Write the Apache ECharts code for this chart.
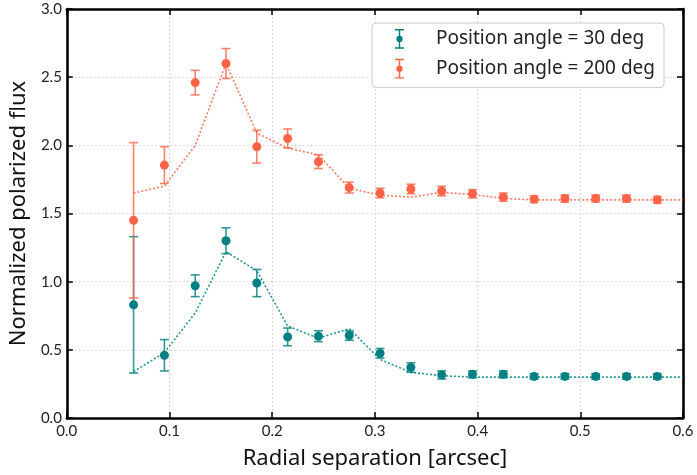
<!DOCTYPE html>
<html>
<head>
<meta charset="utf-8">
<script src="https://cdn.jsdelivr.net/npm/echarts@6/dist/echarts.min.js"></script>
<style>
  html, body { margin: 0; padding: 0; background: #fff; }
  #main { width: 697px; height: 475px; }
</style>
</head>
<body>
<div id="main"></div>
<script>
// radial separation of the measured points [arcsec]
const sepX = [0.065, 0.095, 0.125, 0.155, 0.185, 0.215, 0.245, 0.275, 0.305,
              0.335, 0.365, 0.395, 0.425, 0.455, 0.485, 0.515, 0.545, 0.575];
// model curve sampled at the same radii plus the right edge
const modelX = sepX.concat([0.6]);

const pa30Flux = [0.83, 0.46, 0.97, 1.30, 0.99, 0.595, 0.60, 0.605, 0.475,
                  0.37, 0.316, 0.32, 0.32, 0.305, 0.305, 0.305, 0.305, 0.305];
const pa30Err = [0.50, 0.115, 0.08, 0.095, 0.10, 0.065, 0.04, 0.035, 0.035,
                 0.035, 0.03, 0.025, 0.025, 0.02, 0.02, 0.02, 0.02, 0.02];
const pa30Model = [0.34, 0.48, 0.77, 1.22, 1.08, 0.675, 0.585, 0.655, 0.43,
                   0.335, 0.31, 0.30, 0.30, 0.30, 0.30, 0.30, 0.30, 0.30, 0.30];

const pa200Flux = [1.45, 1.855, 2.46, 2.60, 1.99, 2.05, 1.88, 1.69, 1.65,
                   1.68, 1.665, 1.645, 1.62, 1.605, 1.61, 1.61, 1.61, 1.60];
const pa200Err = [0.57, 0.135, 0.09, 0.11, 0.12, 0.07, 0.05, 0.04, 0.035,
                  0.035, 0.035, 0.03, 0.03, 0.025, 0.025, 0.025, 0.025, 0.025];
const pa200Model = [1.65, 1.70, 2.00, 2.60, 2.09, 1.98, 1.93, 1.685, 1.635,
                    1.62, 1.655, 1.64, 1.61, 1.60, 1.60, 1.60, 1.60, 1.60, 1.60];

const TEAL = '#008080';
const RED = '#ff6347';
const FONT = 'Noto Sans';
const TICK_FONT = 'Lato';
const NAME30 = 'Position angle = 30 deg';
const NAME200 = 'Position angle = 200 deg';

// errorbar glyph used in the legend
const ERR_ICON = 'path://M0,0H10V1.6H0Z M4.2,0H5.8V22H4.2Z M0,20.4H10V22H0Z ' +
  'M5,7.5A3.5,3.5 0 1 1 5,14.5A3.5,3.5 0 1 1 5,7.5Z';

function pairs(xs, ys) {
  return xs.map((x, i) => [x, ys[i]]);
}
function errData(xs, ys, es) {
  return xs.map((x, i) => [x, ys[i] - es[i], ys[i] + es[i]]);
}

function errorBars(color) {
  return function (params, api) {
    const lo = api.coord([api.value(0), api.value(1)]);
    const hi = api.coord([api.value(0), api.value(2)]);
    const cap = 4.5;
    const style = { stroke: color, lineWidth: 1.6, opacity: 0.8 };
    return {
      type: 'group',
      children: [
        { type: 'line', shape: { x1: lo[0], y1: lo[1], x2: hi[0], y2: hi[1] }, style: style },
        { type: 'line', shape: { x1: lo[0] - cap, y1: lo[1], x2: lo[0] + cap, y2: lo[1] }, style: style },
        { type: 'line', shape: { x1: hi[0] - cap, y1: hi[1], x2: hi[0] + cap, y2: hi[1] }, style: style }
      ]
    };
  };
}

// fresh objects per axis
const frame = () => ({ show: true, onZero: false, lineStyle: { color: '#000', width: 2.6 } });
const ticksIn = () => ({ show: true, inside: true, length: 6, lineStyle: { color: '#000', width: 1.5 } });
const dotGrid = () => ({ show: true, lineStyle: { color: '#cfcfcf', type: [1.5, 2.5], width: 1 } });
const tickLabel = (margin) => ({
  show: true, margin: margin, fontFamily: TICK_FONT, fontSize: 15, color: '#222',
  formatter: v => v.toFixed(1)
});

const chart = echarts.init(document.getElementById('main'), null, { renderer: 'canvas' });

const option = {
  animation: false,
  backgroundColor: '#fff',
  textStyle: { fontFamily: FONT },
  grid: { left: 66, right: 14, top: 9, bottom: 56 },
  legend: {
    orient: 'vertical',
    left: 372,
    top: 23,
    padding: [6, 9, 9, 23],
    itemWidth: 9,
    itemHeight: 20,
    itemGap: 10,
    backgroundColor: '#fff',
    borderColor: '#cccccc',
    borderWidth: 1,
    borderRadius: 4,
    textStyle: { fontFamily: FONT, fontSize: 19, color: '#222', padding: [0, 0, 0, 27] },
    data: [
      { name: NAME30, icon: ERR_ICON },
      { name: NAME200, icon: ERR_ICON }
    ]
  },
  xAxis: [{
    type: 'value', min: 0, max: 0.6, interval: 0.1,
    name: 'Radial separation [arcsec]', nameLocation: 'middle', nameGap: 30,
    nameTextStyle: { fontFamily: FONT, fontSize: 22, color: '#111' },
    axisLine: frame(), axisTick: ticksIn(), splitLine: dotGrid(),
    axisLabel: tickLabel(6)
  }, {
    type: 'value', position: 'top', min: 0, max: 0.6, interval: 0.1,
    axisLine: frame(), axisTick: ticksIn(), splitLine: { show: false },
    axisLabel: { show: false }
  }],
  yAxis: [{
    type: 'value', min: 0, max: 3, interval: 0.5,
    name: 'Normalized polarized flux', nameLocation: 'middle', nameGap: 36,
    nameTextStyle: { fontFamily: FONT, fontSize: 22, color: '#111' },
    axisLine: frame(), axisTick: ticksIn(), splitLine: dotGrid(),
    axisLabel: tickLabel(5)
  }, {
    type: 'value', position: 'right', min: 0, max: 3, interval: 0.5,
    axisLine: frame(), axisTick: ticksIn(), splitLine: { show: false },
    axisLabel: { show: false }
  }],
  series: [
    {
      name: 'model30', type: 'line', data: pairs(modelX, pa30Model),
      showSymbol: false, clip: true, z: 2,
      lineStyle: { color: TEAL, width: 1.6, type: [2, 2], opacity: 0.85 }
    },
    {
      name: 'model200', type: 'line', data: pairs(modelX, pa200Model),
      showSymbol: false, clip: true, z: 2,
      lineStyle: { color: RED, width: 1.6, type: [2, 2], opacity: 0.85 }
    },
    {
      name: 'err30', type: 'custom', renderItem: errorBars(TEAL),
      data: errData(sepX, pa30Flux, pa30Err), encode: { x: 0, y: [1, 2] }, z: 3
    },
    {
      name: 'err200', type: 'custom', renderItem: errorBars(RED),
      data: errData(sepX, pa200Flux, pa200Err), encode: { x: 0, y: [1, 2] }, z: 3
    },
    {
      name: NAME30, type: 'scatter', data: pairs(sepX, pa30Flux),
      symbol: 'circle', symbolSize: 9, z: 4,
      itemStyle: { color: TEAL, opacity: 1 }
    },
    {
      name: NAME200, type: 'scatter', data: pairs(sepX, pa200Flux),
      symbol: 'circle', symbolSize: 9, z: 4,
      itemStyle: { color: RED, opacity: 1 }
    }
  ]
};

chart.setOption(option);
</script>
</body>
</html>
